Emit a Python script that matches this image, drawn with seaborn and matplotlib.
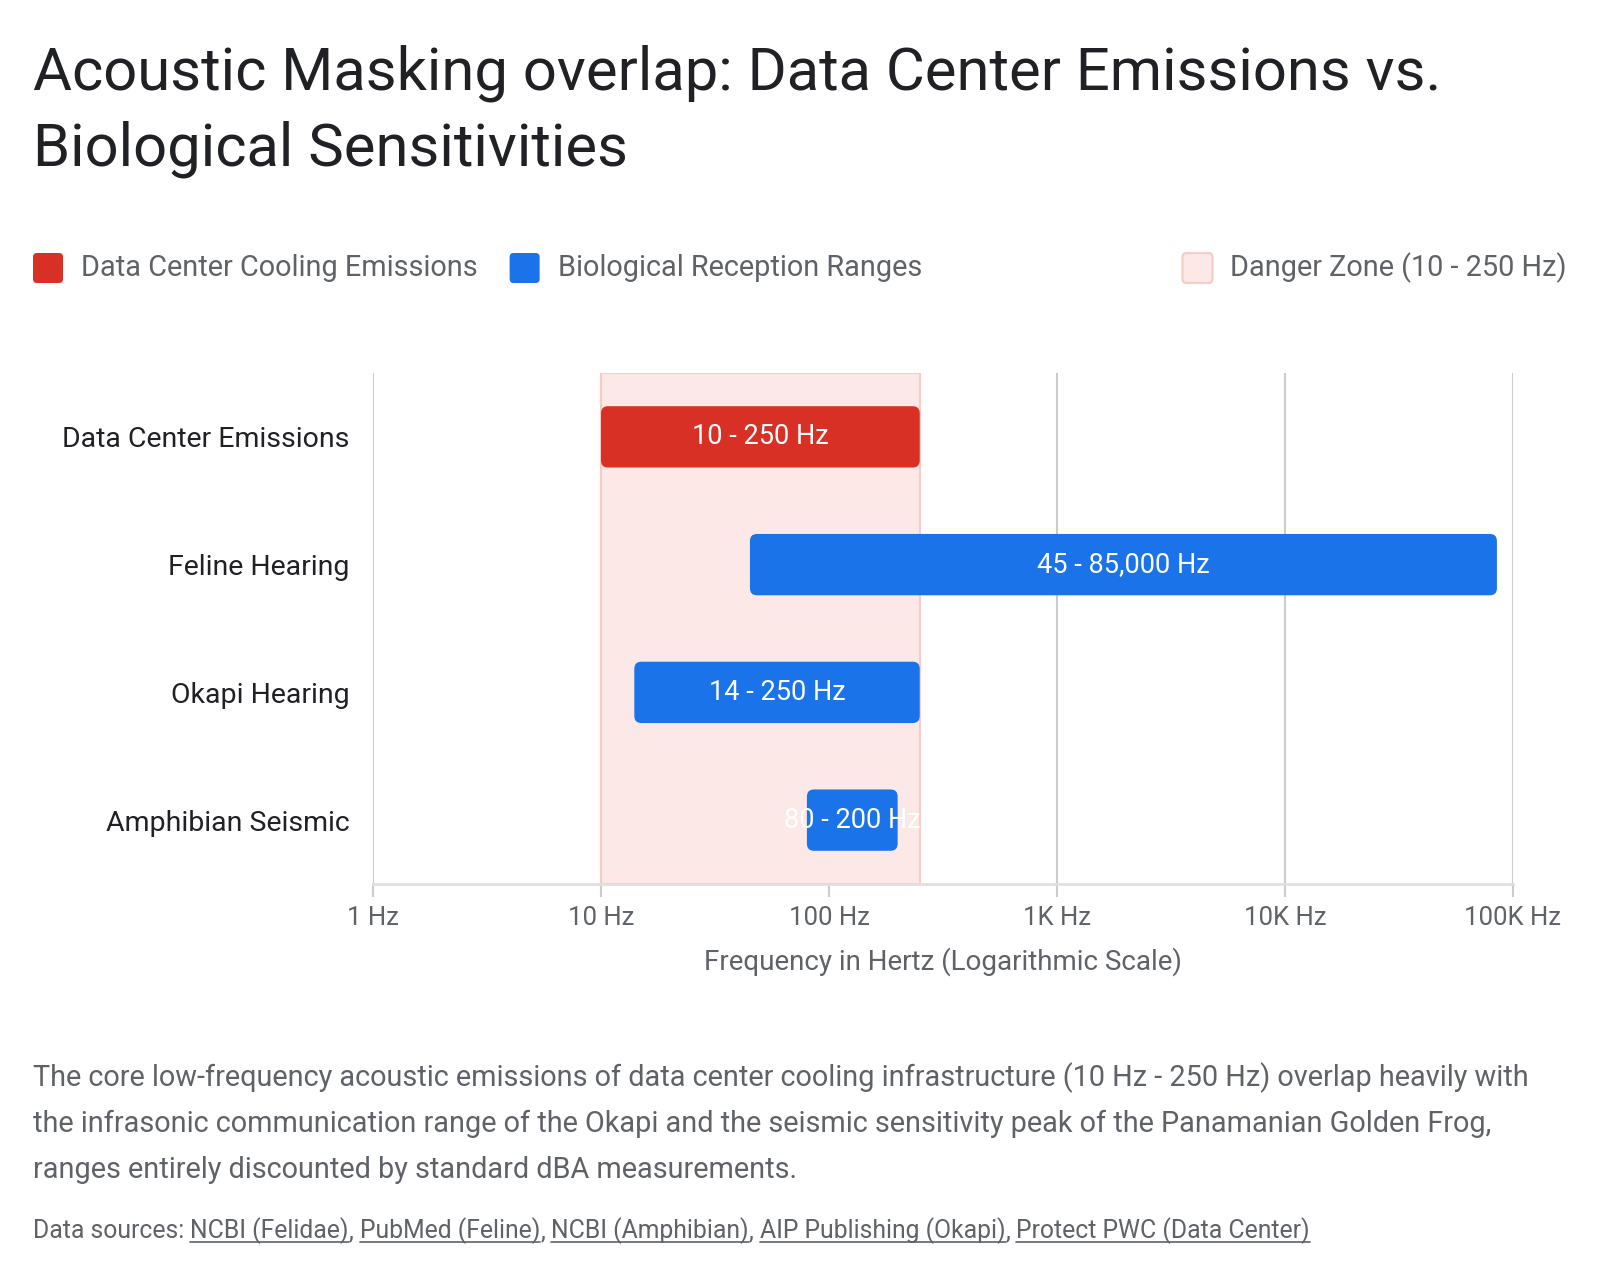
import matplotlib
matplotlib.use("Agg")
import matplotlib.pyplot as plt
import seaborn as sns
import pandas as pd
from matplotlib.patches import FancyBboxPatch
from matplotlib.transforms import IdentityTransform
from matplotlib.ticker import FixedLocator, FixedFormatter, NullLocator
from matplotlib.lines import Line2D

# data
labels = ["Data Center Emissions", "Feline Hearing", "Okapi Hearing", "Amphibian Seismic"]
low_hz = [10, 45, 14, 80]
high_hz = [250, 85000, 250, 200]
groups = ["Data Center Cooling Emissions", "Biological Reception Ranges",
          "Biological Reception Ranges", "Biological Reception Ranges"]
bar_text = ["10 - 250 Hz", "45 - 85,000 Hz", "14 - 250 Hz", "80 - 200 Hz"]
danger_low, danger_high = 10, 250
danger_label = "Danger Zone (10 - 250 Hz)"
tick_hz = [1, 10, 100, 1000, 10000, 100000]
tick_text = ["1 Hz", "10 Hz", "100 Hz", "1K Hz", "10K Hz", "100K Hz"]
sources = ["NCBI (Felidae)", "PubMed (Feline)", "NCBI (Amphibian)",
           "AIP Publishing (Okapi)", "Protect PWC (Data Center)"]
note = ["The core low-frequency acoustic emissions of data center cooling infrastructure (10 Hz - 250 Hz) overlap heavily with",
        "the infrasonic communication range of the Okapi and the seismic sensitivity peak of the Panamanian Golden Frog,",
        "ranges entirely discounted by standard dBA measurements."]

RED = "#D93025"
BLUE = "#1A73E8"
PINK = "#FCE8E6"
PINK_EDGE = "#F7CBC6"
GRID = "#CCCCCC"
DARK = "#202124"
GRAY = "#5F6368"
palette = {groups[0]: RED, groups[1]: BLUE}

W, H, DPI = 1600, 1278, 100
sns.set_theme(style="white")
plt.rcParams["font.family"] = ["Roboto", "DejaVu Sans"]

fig = plt.figure(figsize=(W / DPI, H / DPI), dpi=DPI)
ax = fig.add_axes([373 / W, 1 - 884 / H, (1513 - 373) / W, (884 - 373) / H])

df = pd.DataFrame({"label": labels, "low": low_hz, "high": high_hz, "group": groups})
sns.barplot(data=df, x="high", y="label", hue="group", palette=palette, order=labels,
            width=0.48, saturation=1, legend=False, ax=ax, zorder=3, linewidth=0)
bars = list(ax.patches)
# turn bars into floating ranges
for bar in bars:
    row = int(round(bar.get_y() + bar.get_height() / 2))
    bar.set_x(low_hz[row])
    bar.set_width(high_hz[row] - low_hz[row])

ax.set_xscale("log")
ax.set_xlim(tick_hz[0], tick_hz[-1])
ax.set_ylim(len(labels) - 0.5, -0.5)
ax.xaxis.set_major_locator(FixedLocator(tick_hz))
ax.xaxis.set_major_formatter(FixedFormatter(tick_text))
ax.xaxis.set_minor_locator(NullLocator())

ax.axvspan(danger_low, danger_high, facecolor=PINK, edgecolor=PINK_EDGE, lw=1.5, zorder=2)

ax.set_axisbelow(True)
ax.grid(axis="x", color=GRID, lw=1.5)
ax.grid(axis="y", visible=False)
for side in ["top", "left", "right"]:
    ax.spines[side].set_visible(False)
ax.spines["bottom"].set_color("#E0E0E0")
ax.spines["bottom"].set_linewidth(2)

ax.tick_params(axis="x", length=9, width=1.5, color=GRID, labelsize=18.5, labelcolor=GRAY, pad=7, bottom=True)
ax.tick_params(axis="y", length=0, pad=17, labelsize=20.5, labelcolor=DARK)
ax.set_ylabel("")
ax.set_xlabel("Frequency in Hertz (Logarithmic Scale)", fontsize=20, color=GRAY, labelpad=12)

for i, txt in enumerate(bar_text):
    ax.text((low_hz[i] * high_hz[i]) ** 0.5, i, txt, ha="center", va="center",
            color="white", fontsize=19.5, zorder=4)

# rounded corners for the bars (pixel space)
fig.canvas.draw()
renderer = fig.canvas.get_renderer()
for bar in bars:
    bb = bar.get_window_extent(renderer)
    rounded = FancyBboxPatch((bb.x0, bb.y0), bb.width, bb.height,
                             boxstyle="round,pad=0,rounding_size=7",
                             transform=IdentityTransform(), facecolor=bar.get_facecolor(),
                             edgecolor="none", zorder=3)
    bar.set_visible(False)
    ax.add_artist(rounded)

# title
fig.text(33 / W, 1 - 89 / H, "Acoustic Masking overlap: Data Center Emissions vs.",
         fontsize=43, color=DARK, va="baseline")
fig.text(33 / W, 1 - 166 / H, "Biological Sensitivities", fontsize=43, color=DARK, va="baseline")

# legend
def legend_box(x, face, edge="none"):
    p = FancyBboxPatch((x, H - 268 - 15), 30, 30, boxstyle="round,pad=0,rounding_size=4",
                       transform=IdentityTransform(), facecolor=face, edgecolor=edge, lw=1.5)
    fig.add_artist(p)

leg_size = 20.8
legend_box(33, RED)
t1 = fig.text(81 / W, 1 - 268 / H, groups[0], fontsize=leg_size, color=GRAY, va="center")
x_end = t1.get_window_extent(renderer).x1
legend_box(x_end + 32, BLUE)
fig.text((x_end + 80) / W, 1 - 268 / H, groups[1], fontsize=leg_size, color=GRAY, va="center")
t3 = fig.text(1567 / W, 1 - 268 / H, danger_label, fontsize=leg_size, color=GRAY, va="center", ha="right")
legend_box(t3.get_window_extent(renderer).x0 - 48, PINK, PINK_EDGE)

# note
for k, line in enumerate(note):
    fig.text(33 / W, 1 - (1086 + 46 * k) / H, line, fontsize=20.8, color=GRAY, va="baseline")

# sources with underlined links
def text_width(s, size):
    t = fig.text(0, 0, s, fontsize=size)
    w = t.get_window_extent(renderer).width
    t.remove()
    return w

src_size = 17.8
space = text_width("x x", src_size) - text_width("xx", src_size)
base_y = 1 - 1238 / H
cursor = 33
pieces = [("Data sources:", False)]
for j, s in enumerate(sources):
    pieces.append((s, True))
    if j < len(sources) - 1:
        pieces.append((",", False))
for j, (s, link) in enumerate(pieces):
    if j > 0 and s != ",":
        cursor += space
    t = fig.text(cursor / W, base_y, s, fontsize=src_size, color=GRAY, va="baseline")
    bb = t.get_window_extent(renderer)
    if link:
        fig.add_artist(Line2D([bb.x0, bb.x1], [H - 1242, H - 1242], transform=IdentityTransform(),
                              color=GRAY, lw=1.2))
    cursor = bb.x1

fig.savefig("out.png", dpi=DPI, facecolor="white")
